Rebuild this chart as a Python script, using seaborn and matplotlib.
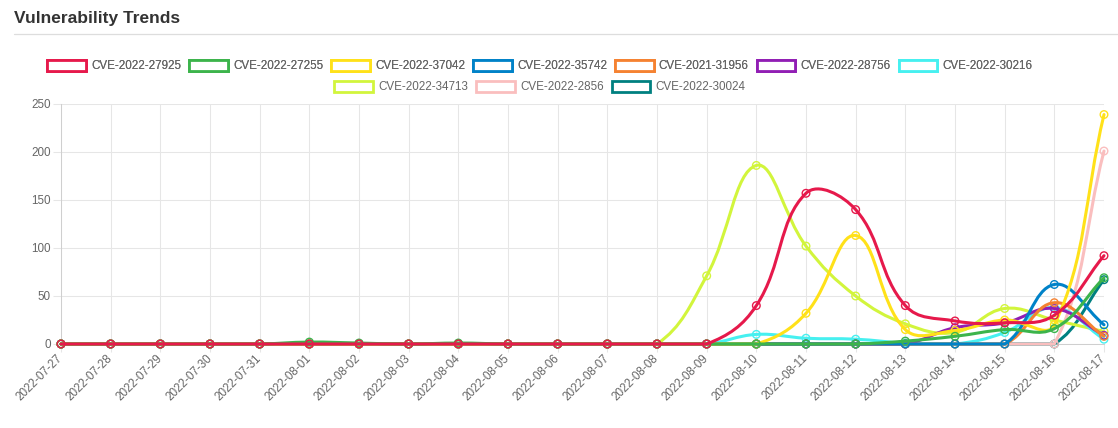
import numpy as np
import pandas as pd
import matplotlib
matplotlib.use("Agg")
import matplotlib.pyplot as plt
import seaborn as sns
from matplotlib.path import Path
from matplotlib.patches import PathPatch, Patch
from matplotlib.lines import Line2D

# ---------------- data ----------------
dates = ["2022-07-27", "2022-07-28", "2022-07-29", "2022-07-30", "2022-07-31",
         "2022-08-01", "2022-08-02", "2022-08-03", "2022-08-04", "2022-08-05",
         "2022-08-06", "2022-08-07", "2022-08-08", "2022-08-09", "2022-08-10",
         "2022-08-11", "2022-08-12", "2022-08-13", "2022-08-14", "2022-08-15",
         "2022-08-16", "2022-08-17"]

cve_2022_27925 = [0, 0, 0, 0, 0, 0, 0, 0, 0, 0, 0, 0, 0, 0, 40, 157, 140, 40, 24, 22, 30, 92]
cve_2022_27255 = [0, 0, 0, 0, 0, 2, 1, 0, 1, 0, 0, 0, 0, 0, 0, 0, 0, 3, 8, 15, 16, 69]
cve_2022_37042 = [0, 0, 0, 0, 0, 0, 0, 0, 0, 0, 0, 0, 0, 0, 0, 32, 113, 15, 14, 25, 20, 239]
cve_2022_35742 = [0, 0, 0, 0, 0, 0, 0, 0, 0, 0, 0, 0, 0, 0, 0, 0, 0, 0, 0, 0, 62, 20]
cve_2021_31956 = [0, 0, 0, 0, 0, 0, 0, 0, 0, 0, 0, 0, 0, 0, 0, 0, 0, 0, 0, 0, 43, 8]
cve_2022_28756 = [0, 0, 0, 0, 0, 0, 0, 0, 0, 0, 0, 0, 0, 0, 0, 0, 0, 0, 17, 22, 37, 9]
cve_2022_30216 = [0, 0, 0, 0, 0, 0, 0, 0, 0, 0, 0, 0, 0, 0, 10, 6, 5, 1, 0, 12, 38, 5]
cve_2022_34713 = [0, 0, 0, 0, 0, 0, 0, 0, 0, 0, 0, 0, 0, 71, 186, 102, 50, 21, 12, 37, 25, 13]
cve_2022_2856 = [0, 0, 0, 0, 0, 0, 0, 0, 0, 0, 0, 0, 0, 0, 0, 0, 0, 0, 0, 0, 0, 201]
cve_2022_30024 = [0, 0, 0, 0, 0, 0, 0, 0, 0, 0, 0, 0, 0, 0, 0, 0, 0, 0, 0, 0, 0, 67]

series_names = ["CVE-2022-27925", "CVE-2022-27255", "CVE-2022-37042", "CVE-2022-35742",
                "CVE-2021-31956", "CVE-2022-28756", "CVE-2022-30216", "CVE-2022-34713",
                "CVE-2022-2856", "CVE-2022-30024"]
series_values = [cve_2022_27925, cve_2022_27255, cve_2022_37042, cve_2022_35742,
                 cve_2021_31956, cve_2022_28756, cve_2022_30216, cve_2022_34713,
                 cve_2022_2856, cve_2022_30024]
colors = ["#e6194b", "#3cb44b", "#ffe119", "#0082c8", "#f58231", "#911eb4",
          "#46f0f0", "#d2f53c", "#fabebe", "#008080"]
y_ticks = [0, 50, 100, 150, 200, 250]

# ---------------- figure ----------------
sns.set_theme(style="white")
plt.rcParams["font.family"] = ["Liberation Sans", "DejaVu Sans"]

W, H = 1118, 428
fig = plt.figure(figsize=(W / 100, H / 100), dpi=100)
ax = fig.add_axes([61 / W, 1 - 344 / H, (1104 - 61) / W, (344 - 104) / H])
ax.set_xlim(0, len(dates) - 1)
ax.set_ylim(y_ticks[0], y_ticks[-1])

df = pd.DataFrame({"x": np.arange(len(dates))})
for name, vals in zip(series_names, series_values):
    df[name] = vals
long = df.melt(id_vars="x", var_name="cve", value_name="count")


def chartjs_curve(xs, ys, tension=0.4):
    pts = ax.transData.transform(np.column_stack([xs, ys]).astype(float))
    bb = ax.bbox
    n = len(pts)
    cps = []
    for i in range(n):
        prev = pts[i - 1] if i > 0 else pts[i]
        cur = pts[i]
        nxt = pts[i + 1] if i < n - 1 else pts[i]
        d01 = np.hypot(*(cur - prev))
        d12 = np.hypot(*(nxt - cur))
        s = d01 + d12
        s01 = d01 / s if s else 0.0
        s12 = d12 / s if s else 0.0
        cp_prev = cur - tension * s01 * (nxt - prev)
        cp_next = cur + tension * s12 * (nxt - prev)
        for cp in (cp_prev, cp_next):
            cp[0] = min(max(cp[0], bb.x0), bb.x1)
            cp[1] = min(max(cp[1], bb.y0), bb.y1)
        cps.append((cp_prev, cp_next))
    verts = [pts[0]]
    codes = [Path.MOVETO]
    for i in range(1, n):
        verts += [cps[i - 1][1], cps[i][0], pts[i]]
        codes += [Path.CURVE4] * 3
    verts = ax.transData.inverted().transform(np.array(verts))
    return Path(verts, codes)


nser = len(series_names)
for i, (name, col) in enumerate(zip(series_names, colors)):
    sub = long[long["cve"] == name]
    z = 10 + (nser - i) * 2
    path = chartjs_curve(sub["x"].values, sub["count"].values)
    ax.add_patch(PathPatch(path, facecolor="none", edgecolor=col, lw=2.2,
                           zorder=z, clip_on=False, capstyle="round", joinstyle="round"))
    sns.scatterplot(data=sub, x="x", y="count", ax=ax, s=30, marker="o",
                    color=col, facecolor="none", edgecolor=col, linewidth=1.0,
                    zorder=z + 1, clip_on=False, legend=False)

# axes styling
grid_c = "#e6e6e6"
ax.set_xticks(np.arange(len(dates)))
ax.set_xticklabels(dates, rotation=45, ha="right", va="center", rotation_mode="anchor")
ax.set_yticks(y_ticks)
ax.set_yticklabels([str(v) for v in y_ticks])
ax.set_xlabel("")
ax.set_ylabel("")
ax.tick_params(axis="both", length=6, width=0.75, color=grid_c, labelsize=8.4,
               labelcolor="#666666", bottom=True, left=True,
               grid_color=grid_c, grid_linewidth=0.75)
ax.tick_params(axis="x", pad=3)
ax.tick_params(axis="y", pad=1.5)
ax.grid(True, color=grid_c, lw=0.75)
ax.set_axisbelow(True)
for side in ["top", "right"]:
    ax.spines[side].set_visible(False)
for side in ["left", "bottom"]:
    ax.spines[side].set_color("#cfcfcf")
    ax.spines[side].set_linewidth(0.75)

# title and separator
fig.text(14 / W, 1 - 18 / H, "Vulnerability Trends", fontsize=12.5, fontweight="bold",
         color="#333333", va="center", ha="left")
fig.add_artist(Line2D([14 / W, 1.0], [1 - 34 / H, 1 - 34 / H], color="#dddddd", lw=0.9))

# legend (two centered rows)
handles = [Patch(facecolor="white", edgecolor=c, linewidth=2.0) for c in colors]
leg_kw = dict(frameon=False, fontsize=8.4, handlelength=3.3, handleheight=1.15,
              handletextpad=0.45, columnspacing=0.7, borderpad=0, borderaxespad=0,
              labelcolor="#666666", loc="center")
leg1 = fig.legend(handles[:7], series_names[:7], ncol=7,
                  bbox_to_anchor=(540 / W, 1 - 66 / H), **leg_kw)
fig.add_artist(leg1)
fig.legend(handles[7:], series_names[7:], ncol=3,
           bbox_to_anchor=(540 / W, 1 - 87 / H), **leg_kw)

fig.savefig("out.png", dpi=100)
